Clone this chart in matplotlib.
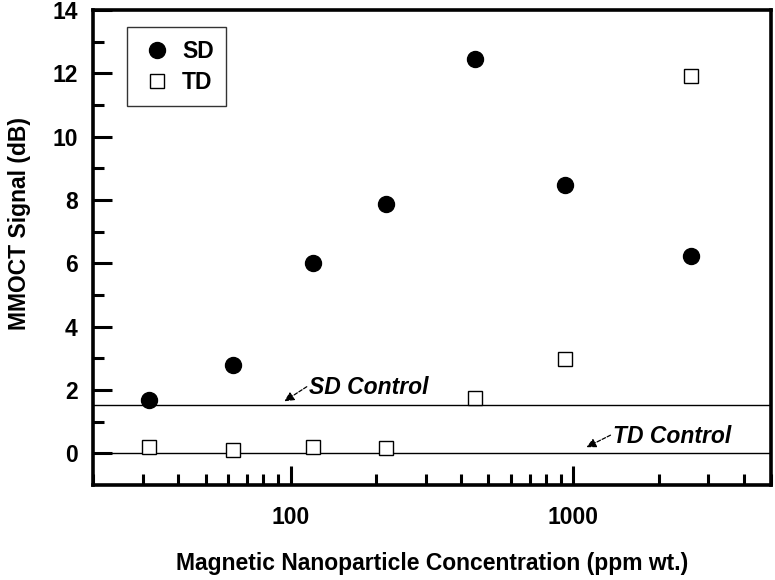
import matplotlib
matplotlib.use('Agg')
import matplotlib.pyplot as plt
from matplotlib.ticker import LogLocator, FixedLocator, NullFormatter, FixedFormatter

plt.rcParams['font.family'] = ['Liberation Sans', 'DejaVu Sans']
plt.rcParams['font.weight'] = 'bold'

# concentration (ppm wt.)
conc = [31.5, 62.5, 120, 218, 450, 935, 2600]
sd_signal = [1.68, 2.8, 6.0, 7.86, 12.45, 8.46, 6.23]
td_signal = [0.19, 0.09, 0.19, 0.15, 1.73, 2.96, 11.92]
sd_control = 1.53
td_control = 0.0

fig = plt.figure(figsize=(7.75, 5.8), dpi=100)
ax = fig.add_axes([0.12, 0.164, 0.875, 0.819])

ax.axhline(sd_control, color='black', lw=1.0, zorder=1)
ax.axhline(td_control, color='black', lw=1.0, zorder=1)

ax.plot(conc, sd_signal, 'o', color='black', ms=11.5, ls='none', label='SD', zorder=3)
ax.plot(conc, td_signal, 's', mfc='white', mec='black', mew=1.0, ms=10.5, ls='none', label='TD', zorder=3)

ax.set_xscale('log')
ax.set_xlim(20, 5000)
ax.set_ylim(-1, 14)

ax.xaxis.set_major_locator(FixedLocator([100, 1000]))
ax.xaxis.set_major_formatter(FixedFormatter(['100', '1000']))
ax.xaxis.set_minor_locator(LogLocator(base=10, subs=[2, 3, 4, 5, 6, 7, 8, 9]))
ax.xaxis.set_minor_formatter(NullFormatter())
ax.set_yticks([0, 2, 4, 6, 8, 10, 12, 14])
ax.set_yticks([1, 3, 5, 7, 9, 11, 13], minor=True)

ax.tick_params(which='major', direction='in', length=14, width=2.2, labelsize=16.5, pad=11)
ax.tick_params(which='minor', direction='in', length=8, width=2.2)
ax.tick_params(axis='x', which='major', pad=15)
for s in ax.spines.values():
    s.set_linewidth(2.6)

ax.set_xlabel('Magnetic Nanoparticle Concentration (ppm wt.)', fontsize=16.5, fontweight='bold', labelpad=17)
ax.set_ylabel('MMOCT Signal (dB)', fontsize=16.5, fontweight='bold')
ax.yaxis.set_label_coords(-0.091, 0.55)

# control labels with dashed arrows
arrow = dict(arrowstyle='-|>', color='black', lw=0.9, ls=(0, (3, 1.5)), mutation_scale=14,
             shrinkA=0, shrinkB=0)
ax.text(116, 2.08, 'SD Control', fontsize=16.5, fontweight='bold', style='italic', va='center', ha='left')
ax.annotate('', xy=(95, 1.64), xytext=(114, 2.1), arrowprops=arrow)
ax.text(1384, 0.53, 'TD Control', fontsize=16.5, fontweight='bold', style='italic', va='center', ha='left')
ax.annotate('', xy=(1112, 0.19), xytext=(1352, 0.57), arrowprops=arrow)

leg = ax.legend(loc='upper left', bbox_to_anchor=(0.05, 0.964), fontsize=16.5, frameon=True,
                fancybox=False, edgecolor='black', handletextpad=0.35, borderpad=0.55,
                labelspacing=0.35, handlelength=1.5, borderaxespad=0)
leg.get_frame().set_linewidth(1.0)
for t in leg.get_texts():
    t.set_fontweight('bold')

fig.savefig('out.png', dpi=100)
